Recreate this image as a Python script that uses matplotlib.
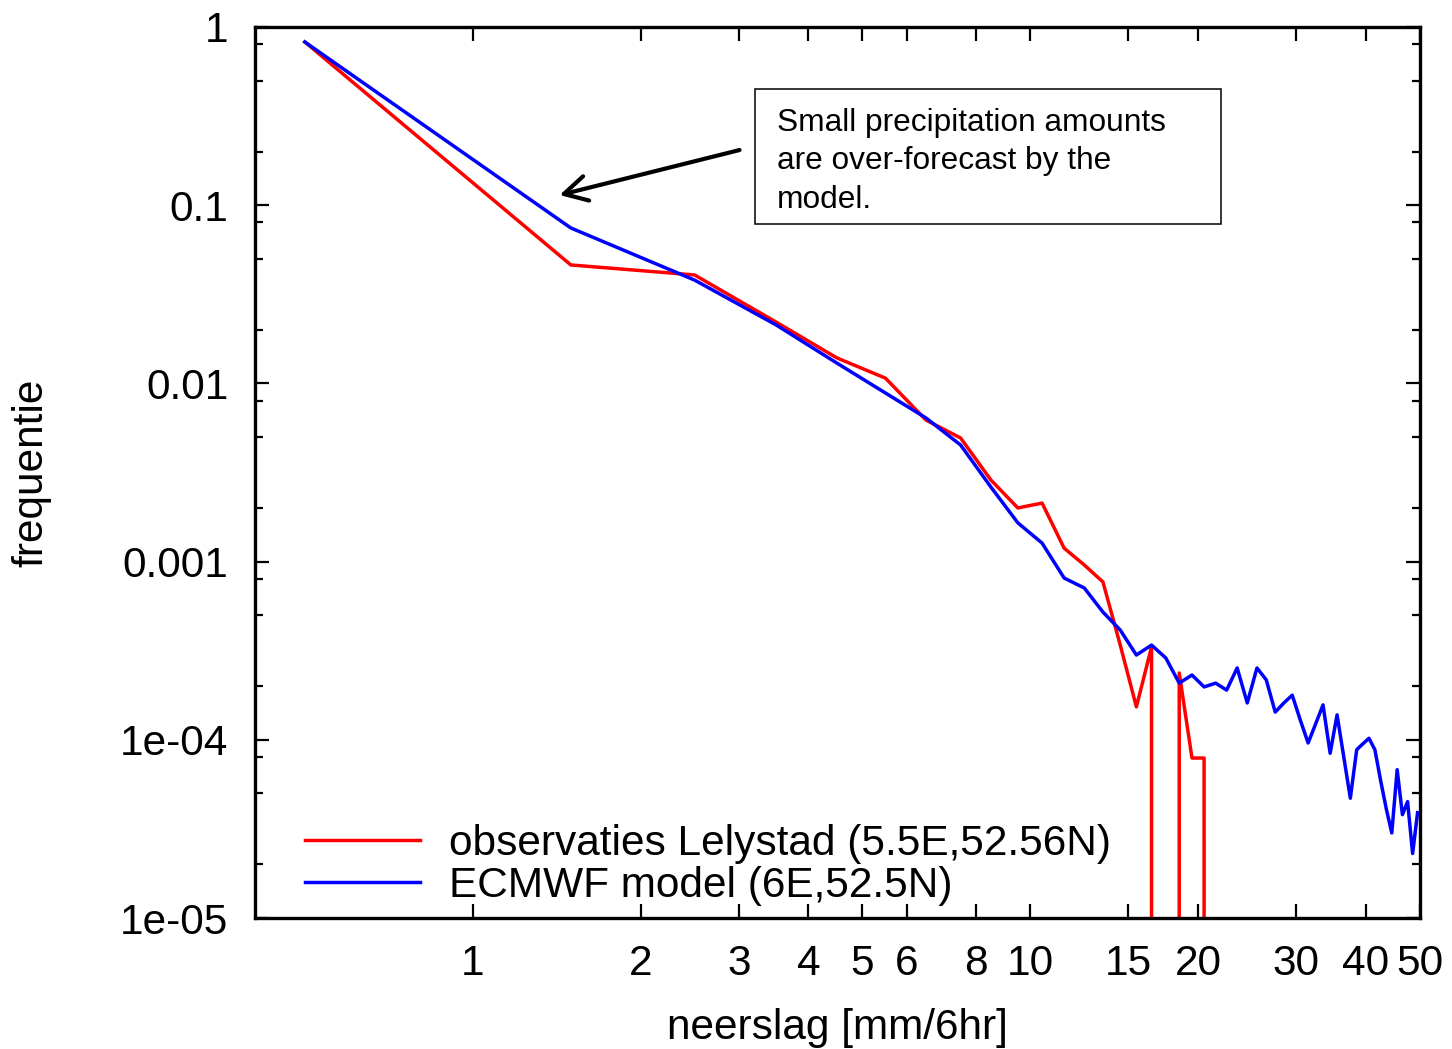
import numpy as np
import matplotlib.pyplot as plt
from matplotlib.patches import Rectangle
from matplotlib.ticker import FixedLocator, NullLocator, NullFormatter, LogLocator

plt.rcParams['font.family'] = ['Liberation Sans', 'DejaVu Sans']

# bin centres [mm/6hr] and frequencies
obs_mm = [0.5, 1.5, 2.5, 3.5, 4.5, 5.5, 6.5, 7.5, 8.5, 9.5, 10.5,
          11.5, 12.5, 13.5, 14.5, 15.5, 16.5, 17.5, 18.5, 19.5, 20.5, 21.5]
obs_freq = [0.824, 0.0462, 0.0406, 0.0221, 0.0139, 0.0107, 0.00623, 0.00494,
            0.00287, 0.00200, 0.00213, 0.00119, 0.000957, 0.000769, 0.00034,
            0.000153, 0.000332, 0.0, 0.000237, 7.9e-5, 7.9e-5, 0.0]

model_mm = [0.5, 1.5, 2.5, 3.5, 4.5, 5.5, 6.5, 7.5, 8.5, 9.5,
            10.5, 11.5, 12.5, 13.5, 14.5, 15.5, 16.5, 17.5, 18.5, 19.5,
            20.5, 21.5, 22.5, 23.5, 24.5, 25.5, 26.5, 27.5, 28.5, 29.5,
            30.5, 31.5, 32.5, 33.5, 34.5, 35.5, 36.5, 37.5, 38.5, 39.5,
            40.5, 41.5, 42.5, 43.5, 44.5, 45.5, 46.5, 47.5, 48.5, 49.5]
model_freq = [0.824, 0.0745, 0.0380, 0.0213, 0.0130, 0.00883, 0.00640, 0.00451, 0.00262, 0.00165,
              0.00127, 0.000809, 0.000711, 0.000521, 4.13e-4, 2.99e-4, 3.40e-4, 2.88e-4, 2.08e-4, 2.31e-4,
              1.98e-4, 2.08e-4, 1.90e-4, 2.53e-4, 1.61e-4, 2.53e-4, 2.17e-4, 1.43e-4, 1.61e-4, 1.78e-4,
              1.29e-4, 9.6e-5, 1.23e-4, 1.57e-4, 8.4e-5, 1.38e-4, 8.0e-5, 4.7e-5, 8.8e-5, 9.5e-5,
              1.02e-4, 8.8e-5, 5.9e-5, 4.1e-5, 3.0e-5, 6.8e-5, 3.8e-5, 4.5e-5, 2.3e-5, 3.9e-5]

xticks = [1, 2, 3, 4, 5, 6, 8, 10, 15, 20, 30, 40, 50]
yticks = [1, 0.1, 0.01, 0.001, 1e-4, 1e-5]
ytick_labels = ['1', '0.1', '0.01', '0.001', '1e-04', '1e-05']

W, H = 1452, 1049
fig = plt.figure(figsize=(W / 100, H / 100), dpi=100)
ax = fig.add_axes([255 / W, 1 - 918 / H, 1165 / W, 891 / H])

ax.plot(obs_mm, obs_freq, color='red', lw=2.5, label='observaties Lelystad (5.5E,52.56N)')
ax.plot(model_mm, model_freq, color='blue', lw=2.5, label='ECMWF model (6E,52.5N)')

ax.set_xscale('log')
ax.set_yscale('log')
ax.set_xlim(0.407, 50)
ax.set_ylim(1e-5, 1)

ax.xaxis.set_major_locator(FixedLocator(xticks))
ax.set_xticklabels([str(t) for t in xticks])
ax.xaxis.set_minor_locator(NullLocator())
ax.set_yticks(yticks, ytick_labels)
ax.yaxis.set_minor_locator(LogLocator(base=10, subs=(2, 5, 8)))
ax.yaxis.set_minor_formatter(NullFormatter())

ax.tick_params(which='both', direction='in', top=True, right=True, width=1.6)
ax.tick_params(which='major', length=10, pad=19, labelsize=30.5)
ax.tick_params(which='minor', length=6)
for s in ax.spines.values():
    s.set_linewidth(2.4)

ax.set_xlabel('neerslag [mm/6hr]', fontsize=30.5)
ax.xaxis.set_label_coords(0.5, -0.101)
ax.set_ylabel('frequentie', fontsize=30.5)
ax.yaxis.set_label_coords(-0.175, 0.5)

ax.legend(loc='lower left', bbox_to_anchor=(0.0429, 0.014), frameon=False,
          fontsize=30.5, handlelength=2.71, handletextpad=0.68,
          labelspacing=0.04, borderpad=0, borderaxespad=0)

# annotation box
fig.add_artist(Rectangle((755 / W, 1 - 224 / H), 466 / W, 135 / H,
                         transform=fig.transFigure, fill=False, lw=1.1, ec='black'))
note = ["Small precipitation amounts", "are over-forecast by the", "model."]
for i, line in enumerate(note):
    fig.text(777 / W, 1 - (131 + 38.5 * i) / H, line, fontsize=22.8,
             va='baseline', ha='left')

ax.annotate('', xy=(1.432, 0.114), xytext=(3.01, 0.204),
            arrowprops=dict(arrowstyle='->, head_length=0.55, head_width=0.3',
                            lw=3, color='black', shrinkA=0, shrinkB=0,
                            mutation_scale=30))

fig.savefig('out.png', dpi=100)
